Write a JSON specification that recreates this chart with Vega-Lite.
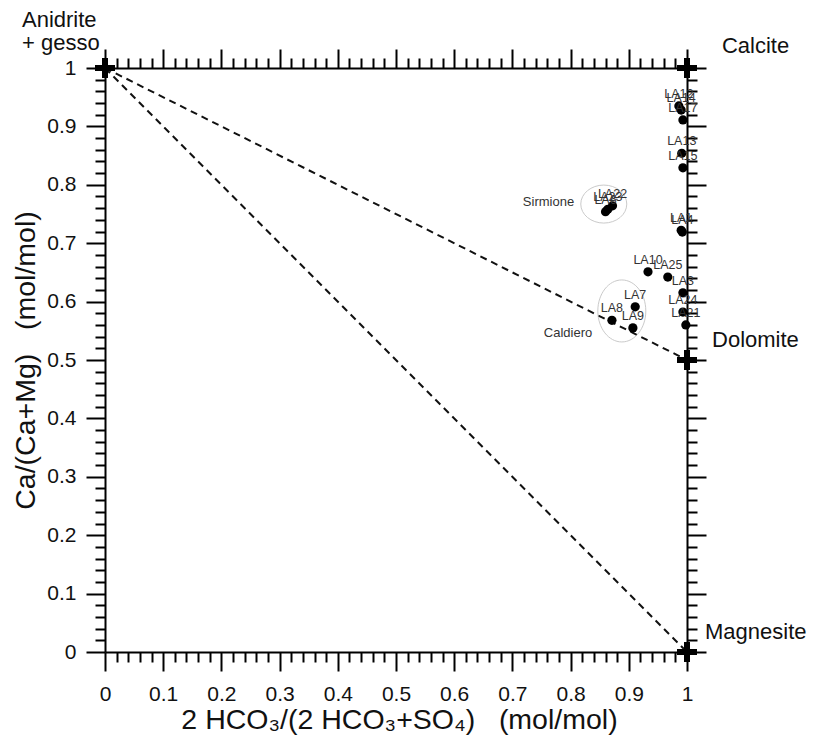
{
  "$schema": "https://vega.github.io/schema/vega-lite/v6.json",
  "width": 582,
  "height": 584,
  "autosize": "none",
  "padding": {"left": 105, "top": 68, "right": 137, "bottom": 93},
  "background": "white",
  "config": {
    "view": {"stroke": null},
    "font": "Liberation Sans",
    "axis": {
      "grid": false,
      "domainColor": "black",
      "domainWidth": 2,
      "tickColor": "black",
      "tickWidth": 2,
      "labelFont": "Liberation Sans",
      "labelFontSize": 21,
      "labelColor": "#111",
      "labelOverlap": false,
      "labelFlush": false,
      "labelBound": false,
      "titleFont": "Liberation Sans",
      "titleFontSize": 28.5,
      "titleFontWeight": "normal",
      "titleColor": "#111"
    }
  },
  "datasets": {
    "samples": [
      {"id": "LA12", "r": 0.986, "c": 0.935},
      {"id": "LA14", "r": 0.990, "c": 0.928},
      {"id": "LA17", "r": 0.993, "c": 0.911},
      {"id": "LA13", "r": 0.991, "c": 0.854},
      {"id": "LA15", "r": 0.993, "c": 0.829},
      {"id": "LA1", "r": 0.990, "c": 0.722},
      {"id": "LA4", "r": 0.992, "c": 0.719},
      {"id": "LA22", "r": 0.872, "c": 0.764},
      {"id": "LA23", "r": 0.864, "c": 0.758},
      {"id": "LA6", "r": 0.860, "c": 0.754},
      {"id": "LA10", "r": 0.933, "c": 0.651},
      {"id": "LA25", "r": 0.967, "c": 0.642},
      {"id": "LA3", "r": 0.993, "c": 0.615},
      {"id": "LA24", "r": 0.993, "c": 0.582},
      {"id": "LA21", "r": 0.998, "c": 0.560},
      {"id": "LA7", "r": 0.911, "c": 0.591},
      {"id": "LA8", "r": 0.871, "c": 0.568},
      {"id": "LA9", "r": 0.907, "c": 0.555}
    ],
    "endmembers": [
      {"r": 0, "c": 1},
      {"r": 1, "c": 1},
      {"r": 1, "c": 0.5},
      {"r": 1, "c": 0}
    ],
    "mixing": [
      {"r": 0, "c": 1, "r2": 1, "c2": 0.5},
      {"r": 0, "c": 1, "r2": 1, "c2": 0}
    ],
    "emlabels": [
      {"t": "Anidrite", "r": -0.1426, "c": 1.070},
      {"t": "+ gesso", "r": -0.1426, "c": 1.031},
      {"t": "Calcite", "r": 1.060, "c": 1.026},
      {"t": "Dolomite", "r": 1.043, "c": 0.522},
      {"t": "Magnesite", "r": 1.031, "c": 0.023}
    ],
    "sites": [
      {"t": "Sirmione", "r": 0.762, "c": 0.771},
      {"t": "Caldiero", "r": 0.7955, "c": 0.546}
    ],
    "sirmione": [{"r": 0.857, "c": 0.767}],
    "caldiero": [{"r": 0.888, "c": 0.584}]
  },
  "layer": [
    {
      "data": {"name": "mixing"},
      "mark": {"type": "rule", "strokeDash": [7, 5], "strokeWidth": 2, "color": "#111"},
      "encoding": {
        "x": {"field": "r", "type": "quantitative", "scale": {"domain": [0, 1], "nice": false}, "axis": null},
        "y": {"field": "c", "type": "quantitative", "scale": {"domain": [0, 1], "nice": false}, "axis": null},
        "x2": {"field": "r2"},
        "y2": {"field": "c2"}
      }
    },
    {
      "data": {"name": "sirmione"},
      "mark": {"type": "point", "shape": "M-1,0A1,0.826,0,1,0,1,0A1,0.826,0,1,0,-1,0Z", "size": 2116, "filled": false, "stroke": "#b5b5b5", "strokeWidth": 1},
      "encoding": {
        "x": {"field": "r", "type": "quantitative", "scale": {"domain": [0, 1], "nice": false}, "axis": null},
        "y": {"field": "c", "type": "quantitative", "scale": {"domain": [0, 1], "nice": false}, "axis": null}
      }
    },
    {
      "data": {"name": "caldiero"},
      "mark": {"type": "point", "shape": "M-0.774,0A0.774,1,0,1,0,0.774,0A0.774,1,0,1,0,-0.774,0Z", "size": 3844, "filled": false, "stroke": "#b5b5b5", "strokeWidth": 1},
      "encoding": {
        "x": {"field": "r", "type": "quantitative", "scale": {"domain": [0, 1], "nice": false}, "axis": null},
        "y": {"field": "c", "type": "quantitative", "scale": {"domain": [0, 1], "nice": false}, "axis": null}
      }
    },
    {
      "data": {"name": "samples"},
      "mark": {"type": "circle", "size": 85, "color": "black", "opacity": 1},
      "encoding": {
        "x": {
          "field": "r", "type": "quantitative",
          "scale": {"domain": [0, 1], "nice": false},
          "axis": {
            "orient": "bottom",
            "values": [0,0.02,0.04,0.06,0.08,0.1,0.12,0.14,0.16,0.18,0.2,0.22,0.24,0.26,0.28,0.3,0.32,0.34,0.36,0.38,0.4,0.42,0.44,0.46,0.48,0.5,0.52,0.54,0.56,0.58,0.6,0.62,0.64,0.66,0.68,0.7,0.72,0.74,0.76,0.78,0.8,0.82,0.84,0.86,0.88,0.9,0.92,0.94,0.96,0.98,1],
            "tickSize": {"condition": {"test": "abs(datum.value*10 - round(datum.value*10)) < 0.001", "value": 19}, "value": 10},
            "labelExpr": "abs(datum.value*10 - round(datum.value*10)) < 0.001 ? format(datum.value, '.1~f') : ''",
            "labelPadding": 12,
            "title": "2 HCO₃/(2 HCO₃+SO₄)\u00a0\u00a0\u00a0(mol/mol)",
            "titleX": 294,
            "titleY": 76,
            "titleBaseline": "alphabetic"
          }
        },
        "y": {
          "field": "c", "type": "quantitative",
          "scale": {"domain": [0, 1], "nice": false},
          "axis": {
            "orient": "left",
            "values": [0,0.02,0.04,0.06,0.08,0.1,0.12,0.14,0.16,0.18,0.2,0.22,0.24,0.26,0.28,0.3,0.32,0.34,0.36,0.38,0.4,0.42,0.44,0.46,0.48,0.5,0.52,0.54,0.56,0.58,0.6,0.62,0.64,0.66,0.68,0.7,0.72,0.74,0.76,0.78,0.8,0.82,0.84,0.86,0.88,0.9,0.92,0.94,0.96,0.98,1],
            "tickSize": {"condition": {"test": "abs(datum.value*10 - round(datum.value*10)) < 0.001", "value": 19}, "value": 10},
            "labelExpr": "abs(datum.value*10 - round(datum.value*10)) < 0.001 ? format(datum.value, '.1~f') : ''",
            "labelPadding": 10,
            "title": "Ca/(Ca+Mg)\u00a0\u00a0\u00a0(mol/mol)",
            "titleX": -80,
            "titleY": 292,
            "titleAlign": "center",
            "titleBaseline": "middle"
          }
        }
      }
    },
    {
      "data": {"name": "samples"},
      "mark": {"type": "text", "fontSize": 12.5, "color": "#333", "dy": -12, "baseline": "middle", "align": "center"},
      "encoding": {
        "x": {"field": "r", "type": "quantitative", "scale": {"domain": [0, 1], "nice": false}, "axis": null},
        "y": {"field": "c", "type": "quantitative", "scale": {"domain": [0, 1], "nice": false}, "axis": null},
        "text": {"field": "id"}
      }
    },
    {
      "data": {"name": "endmembers"},
      "mark": {"type": "point", "shape": "M-1,-0.3H-0.3V-1H0.3V-0.3H1V0.3H0.3V1H-0.3V0.3H-1Z", "size": 400, "filled": true, "color": "black", "opacity": 1},
      "encoding": {
        "x": {
          "field": "r", "type": "quantitative",
          "scale": {"domain": [0, 1], "nice": false},
          "axis": {
            "orient": "top",
            "values": [0,0.02,0.04,0.06,0.08,0.1,0.12,0.14,0.16,0.18,0.2,0.22,0.24,0.26,0.28,0.3,0.32,0.34,0.36,0.38,0.4,0.42,0.44,0.46,0.48,0.5,0.52,0.54,0.56,0.58,0.6,0.62,0.64,0.66,0.68,0.7,0.72,0.74,0.76,0.78,0.8,0.82,0.84,0.86,0.88,0.9,0.92,0.94,0.96,0.98,1],
            "tickSize": {"condition": {"test": "abs(datum.value*10 - round(datum.value*10)) < 0.001", "value": 19}, "value": 10},
            "labels": false,
            "title": null
          }
        },
        "y": {
          "field": "c", "type": "quantitative",
          "scale": {"domain": [0, 1], "nice": false},
          "axis": {
            "orient": "right",
            "values": [0,0.02,0.04,0.06,0.08,0.1,0.12,0.14,0.16,0.18,0.2,0.22,0.24,0.26,0.28,0.3,0.32,0.34,0.36,0.38,0.4,0.42,0.44,0.46,0.48,0.5,0.52,0.54,0.56,0.58,0.6,0.62,0.64,0.66,0.68,0.7,0.72,0.74,0.76,0.78,0.8,0.82,0.84,0.86,0.88,0.9,0.92,0.94,0.96,0.98,1],
            "tickSize": {"condition": {"test": "abs(datum.value*10 - round(datum.value*10)) < 0.001", "value": 19}, "value": 10},
            "labels": false,
            "title": null
          }
        }
      }
    },
    {
      "data": {"name": "emlabels"},
      "mark": {"type": "text", "fontSize": 22, "color": "#111", "align": "left", "baseline": "alphabetic"},
      "encoding": {
        "x": {"field": "r", "type": "quantitative", "scale": {"domain": [0, 1], "nice": false}, "axis": null},
        "y": {"field": "c", "type": "quantitative", "scale": {"domain": [0, 1], "nice": false}, "axis": null},
        "text": {"field": "t"}
      }
    },
    {
      "data": {"name": "sites"},
      "mark": {"type": "text", "fontSize": 13, "color": "#333", "align": "center", "baseline": "middle"},
      "encoding": {
        "x": {"field": "r", "type": "quantitative", "scale": {"domain": [0, 1], "nice": false}, "axis": null},
        "y": {"field": "c", "type": "quantitative", "scale": {"domain": [0, 1], "nice": false}, "axis": null},
        "text": {"field": "t"}
      }
    }
  ],
  "resolve": {"axis": {"x": "independent", "y": "independent"}}
}
